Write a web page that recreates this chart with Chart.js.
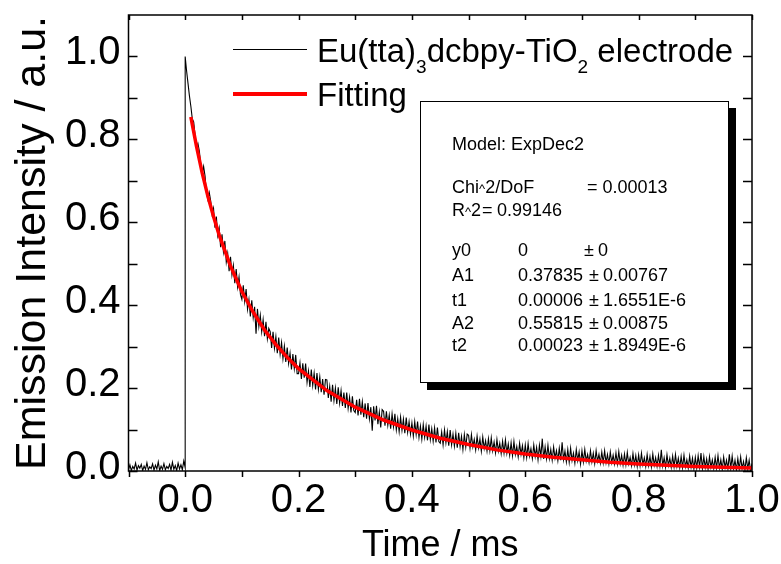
<!DOCTYPE html>
<html>
<head>
<meta charset="utf-8">
<script src="https://cdn.jsdelivr.net/npm/chart.js@4.4.1/dist/chart.umd.min.js"></script>
<style>
  html, body { margin: 0; padding: 0; background: #fff; }
  #wrap { position: relative; width: 781px; height: 564px; font-family: 'Liberation Sans', Arial, sans-serif; color: #000; }
  #chart { position: absolute; left: 0; top: 0; }
  .lg-line { position: absolute; left: 233px; width: 74px; }
  .lg-text { position: absolute; left: 317px; font-size: 33px; line-height: 33px; white-space: nowrap; }
  .lg-text sub { font-size: 19px; vertical-align: -11px; line-height: 0; }
  #box { position: absolute; left: 420px; top: 101px; width: 307px; height: 280px; border: 1px solid #000; background: #fff; box-shadow: 7px 7px 0 #000; }
  .bt { position: absolute; font-size: 18px; line-height: 18px; white-space: nowrap; }
  .pm { display: inline-block; width: 18px; text-align: center; }
  .cr { font-size: 13px; }
</style>
</head>
<body>
<div id="wrap">
  <canvas id="chart" width="781" height="564"></canvas>

  <div class="lg-line" style="top:49px; height:1px; background:#000;"></div>
  <div class="lg-text" style="top:34px;">Eu(tta)<sub>3</sub>dcbpy-TiO<sub>2</sub> electrode</div>
  <div class="lg-line" style="top:92px; height:4px; background:#ff0000;"></div>
  <div class="lg-text" style="top:78px;">Fitting</div>

  <div id="box"></div>
  <div class="bt" style="left:452px; top:135px;">Model: ExpDec2</div>
  <div class="bt" style="left:452px; top:178px;">Chi<span class="cr">^</span>2/DoF</div>
  <div class="bt" style="left:587px; top:178px;">= 0.00013</div>
  <div class="bt" style="left:452px; top:201px;">R<span class="cr">^</span>2</div>
  <div class="bt" style="left:482px; top:201px;">=</div>
  <div class="bt" style="left:497px; top:201px;">0.99146</div>
  <div class="bt" style="left:452px; top:241px;">y0</div>
  <div class="bt" style="left:518px; top:241px;">0</div>
  <div class="bt" style="left:580px; top:241px;"><span class="pm">±</span>0</div>
  <div class="bt" style="left:452px; top:266px;">A1</div>
  <div class="bt" style="left:518px; top:266px;">0.37835</div>
  <div class="bt" style="left:585px; top:266px;"><span class="pm">±</span>0.00767</div>
  <div class="bt" style="left:452px; top:291px;">t1</div>
  <div class="bt" style="left:518px; top:291px;">0.00006</div>
  <div class="bt" style="left:585px; top:291px;"><span class="pm">±</span>1.6551E-6</div>
  <div class="bt" style="left:452px; top:314px;">A2</div>
  <div class="bt" style="left:518px; top:314px;">0.55815</div>
  <div class="bt" style="left:585px; top:314px;"><span class="pm">±</span>0.00875</div>
  <div class="bt" style="left:452px; top:336px;">t2</div>
  <div class="bt" style="left:518px; top:336px;">0.00023</div>
  <div class="bt" style="left:585px; top:336px;"><span class="pm">±</span>1.8949E-6</div>
</div>

<script>
// time axis of the transient, ms (sampled every 2.5 us)
const sampleStep = 0.0025;
const preTriggerStart = -0.1;

// detector signal before the laser pulse (-0.100 .. 0.000 ms)
const preTrigger = [
  0.003, 0.015, 0.001, 0.011, 0.005, 0.019, 0.002, 0.013, 0.007, 0.016,
  0.001, 0.012, 0.004, 0.020, 0.003, 0.010, 0.006, 0.017, 0.002, 0.014,
  0.005, 0.022, 0.001, 0.012, 0.004, 0.018, 0.003, 0.011, 0.006, 0.016,
  0.002, 0.021, 0.004, 0.013, 0.001, 0.019, 0.005, 0.015, 0.003, 0.024,
  0.008
];

// emission decay after the pulse (0.000 .. 1.000 ms), one row per 0.05 ms
const decay = [
  1.000, 0.965, 0.935, 0.905, 0.880, 0.850, 0.842, 0.810, 0.781, 0.790, 0.772, 0.738, 0.716, 0.735, 0.712, 0.672, 0.655, 0.672, 0.652, 0.620,
  0.634, 0.587, 0.614, 0.568, 0.586, 0.540, 0.571, 0.529, 0.555, 0.504, 0.525, 0.482, 0.517, 0.473, 0.496, 0.453, 0.487, 0.444, 0.468, 0.426,
  0.414, 0.448, 0.409, 0.439, 0.390, 0.414, 0.373, 0.412, 0.370, 0.396, 0.331, 0.391, 0.349, 0.376, 0.336, 0.365, 0.325, 0.360, 0.319, 0.344,
  0.336, 0.297, 0.336, 0.296, 0.324, 0.284, 0.322, 0.282, 0.310, 0.271, 0.301, 0.263, 0.298, 0.259, 0.284, 0.245, 0.282, 0.247, 0.280, 0.235,
  0.235, 0.261, 0.222, 0.260, 0.225, 0.259, 0.214, 0.241, 0.203, 0.245, 0.206, 0.236, 0.197, 0.236, 0.197, 0.227, 0.190, 0.222, 0.184, 0.221,
  0.220, 0.176, 0.204, 0.167, 0.208, 0.170, 0.200, 0.162, 0.202, 0.164, 0.194, 0.157, 0.189, 0.152, 0.189, 0.151, 0.178, 0.141, 0.180, 0.146,
  0.141, 0.172, 0.134, 0.174, 0.136, 0.167, 0.130, 0.163, 0.126, 0.164, 0.126, 0.154, 0.097, 0.156, 0.122, 0.157, 0.113, 0.142, 0.105, 0.148,
  0.144, 0.109, 0.144, 0.110, 0.135, 0.102, 0.138, 0.107, 0.138, 0.099, 0.126, 0.095, 0.130, 0.098, 0.125, 0.091, 0.129, 0.093, 0.119, 0.089,
  0.116, 0.084, 0.119, 0.088, 0.119, 0.081, 0.108, 0.077, 0.112, 0.081, 0.108, 0.074, 0.112, 0.076, 0.102, 0.072, 0.104, 0.069, 0.105, 0.071,
  0.067, 0.094, 0.063, 0.099, 0.068, 0.095, 0.061, 0.099, 0.063, 0.089, 0.060, 0.091, 0.056, 0.092, 0.059, 0.084, 0.052, 0.088, 0.058, 0.089,
  0.086, 0.055, 0.088, 0.058, 0.076, 0.051, 0.084, 0.056, 0.077, 0.048, 0.082, 0.054, 0.073, 0.048, 0.078, 0.049, 0.080, 0.049, 0.070, 0.044,
  0.076, 0.048, 0.067, 0.042, 0.072, 0.043, 0.075, 0.043, 0.065, 0.038, 0.068, 0.037, 0.071, 0.040, 0.059, 0.034, 0.067, 0.040, 0.061, 0.032,
  0.063, 0.033, 0.066, 0.036, 0.054, 0.030, 0.063, 0.035, 0.057, 0.027, 0.062, 0.035, 0.078, 0.029, 0.058, 0.030, 0.062, 0.030, 0.052, 0.026,
  0.058, 0.031, 0.049, 0.025, 0.055, 0.026, 0.069, 0.027, 0.048, 0.022, 0.052, 0.021, 0.055, 0.025, 0.043, 0.019, 0.052, 0.025, 0.046, 0.017,
  0.049, 0.022, 0.052, 0.024, 0.040, 0.020, 0.049, 0.022, 0.043, 0.018, 0.049, 0.023, 0.040, 0.019, 0.046, 0.020, 0.049, 0.020, 0.040, 0.017,
  0.046, 0.020, 0.038, 0.017, 0.044, 0.017, 0.047, 0.018, 0.038, 0.014, 0.041, 0.015, 0.045, 0.017, 0.033, 0.013, 0.042, 0.015, 0.037, 0.011,
  0.039, 0.013, 0.043, 0.015, 0.032, 0.011, 0.040, 0.013, 0.035, 0.010, 0.041, 0.014, 0.032, 0.011, 0.038, 0.012, 0.051, 0.012, 0.032, 0.009,
  0.039, 0.013, 0.031, 0.009, 0.036, 0.010, 0.040, 0.011, 0.031, 0.008, 0.035, 0.008, 0.038, 0.010, 0.027, 0.007, 0.036, 0.009, 0.031, 0.005,
  0.033, 0.007, 0.037, 0.009, 0.043, 0.006, 0.035, 0.008, 0.029, 0.004, 0.035, 0.009, 0.027, 0.006, 0.033, 0.007, 0.037, 0.007, 0.027, 0.004,
  0.034, 0.008, 0.026, 0.005, 0.040, 0.006, 0.036, 0.006, 0.026, 0.003, 0.030, 0.004, 0.034, 0.006, 0.023, 0.003, 0.032, 0.005, 0.026, 0.001,
  0.018
];

// ExpDec2 fitting curve
const fitTime = [0.01, 0.02, 0.03, 0.04, 0.05, 0.06, 0.08, 0.10, 0.12, 0.14, 0.16, 0.18, 0.20,
  0.25, 0.30, 0.35, 0.40, 0.45, 0.50, 0.55, 0.60, 0.65, 0.70, 0.75, 0.80, 0.85, 0.90, 0.95, 1.00];
const fitValue = [0.854, 0.783, 0.719, 0.663, 0.614, 0.569, 0.494, 0.433, 0.383, 0.340, 0.305, 0.274, 0.247,
  0.194, 0.154, 0.123, 0.099, 0.079, 0.064, 0.051, 0.041, 0.033, 0.027, 0.021, 0.017, 0.014, 0.011, 0.009, 0.007];

// axis ticks
const xLabels = [0.0, 0.2, 0.4, 0.6, 0.8, 1.0];
const xTickMarks = [-0.1, 0.0, 0.1, 0.2, 0.3, 0.4, 0.5, 0.6, 0.7, 0.8, 0.9, 1.0];
const yLabels = [0.0, 0.2, 0.4, 0.6, 0.8, 1.0];
const yTickMarks = [0.0, 0.1, 0.2, 0.3, 0.4, 0.5, 0.6, 0.7, 0.8, 0.9, 1.0];

const tracePoints = [];
preTrigger.forEach((v, i) => tracePoints.push({ x: preTriggerStart + i * sampleStep, y: v }));
decay.forEach((v, i) => tracePoints.push({ x: i * sampleStep, y: v }));
const fitPoints = fitTime.map((t, i) => ({ x: t, y: fitValue[i] }));

const FONT = "'Liberation Sans', Arial, sans-serif";

// frame around the plot plus inward / outward tick marks, Origin style
const frameTicks = {
  id: 'frameTicks',
  afterDatasetsDraw(chart) {
    const { ctx, chartArea: a, scales } = chart;
    const xs = scales.x, ys = scales.y;
    ctx.save();
    ctx.strokeStyle = '#000';
    ctx.lineWidth = 1.5;
    ctx.strokeRect(a.left, a.top, a.right - a.left, a.bottom - a.top);
    ctx.beginPath();
    xTickMarks.forEach(v => {
      const px = Math.round(xs.getPixelForValue(v)) + 0.5;
      ctx.moveTo(px, a.bottom); ctx.lineTo(px, a.bottom + 6);
      ctx.moveTo(px, a.top); ctx.lineTo(px, a.top + 5);
    });
    yTickMarks.forEach(v => {
      const py = Math.round(ys.getPixelForValue(v)) + 0.5;
      ctx.moveTo(a.left, py); ctx.lineTo(a.left + 9, py);
      ctx.moveTo(a.right, py); ctx.lineTo(a.right - 9, py);
    });
    ctx.stroke();
    ctx.restore();
  }
};

new Chart(document.getElementById('chart'), {
  type: 'scatter',
  data: {
    datasets: [
      {
        label: 'Fitting',
        data: fitPoints,
        showLine: true,
        borderColor: '#ff0000',
        borderWidth: 3.5,
        pointRadius: 0,
        tension: 0,
        order: 0
      },
      {
        label: 'Eu(tta)3dcbpy-TiO2 electrode',
        data: tracePoints,
        showLine: true,
        borderColor: '#000',
        borderWidth: 1.1,
        pointRadius: 0,
        tension: 0,
        order: 1
      }
    ]
  },
  options: {
    responsive: false,
    animation: false,
    devicePixelRatio: 1,
    layout: { padding: { left: 0, right: 29, top: 15, bottom: 0 } },
    plugins: { legend: { display: false }, tooltip: { enabled: false } },
    scales: {
      x: {
        type: 'linear',
        min: -0.1,
        max: 1.0,
        afterBuildTicks: s => { s.ticks = xLabels.map(v => ({ value: v })); },
        afterFit: s => { s.height = 93; s.paddingLeft = 0; s.paddingRight = 0; },
        grid: { display: false, drawTicks: false },
        border: { display: false },
        ticks: {
          color: '#000',
          font: { family: FONT, size: 40 },
          padding: 6,
          maxRotation: 0,
          callback: v => Number(v).toFixed(1)
        },
        title: {
          display: true,
          text: 'Time / ms',
          color: '#000',
          font: { family: FONT, size: 36, lineHeight: 1 },
          padding: { top: 1, bottom: 0 }
        }
      },
      y: {
        type: 'linear',
        min: 0,
        max: 1.1,
        afterBuildTicks: s => { s.ticks = yLabels.map(v => ({ value: v })); },
        afterFit: s => { s.width = 128.5; s.paddingTop = 0; s.paddingBottom = 0; },
        grid: { display: false, drawTicks: false },
        border: { display: false },
        ticks: {
          color: '#000',
          font: { family: FONT, size: 40 },
          padding: 8,
          labelOffset: -3,
          callback: v => Number(v).toFixed(1)
        },
        title: {
          display: true,
          text: 'Emission Intensity / a.u.',
          color: '#000',
          font: { family: FONT, size: 43, lineHeight: 1 },
          padding: { top: 12, bottom: 0 }
        }
      }
    }
  },
  plugins: [frameTicks]
});
</script>
</body>
</html>
